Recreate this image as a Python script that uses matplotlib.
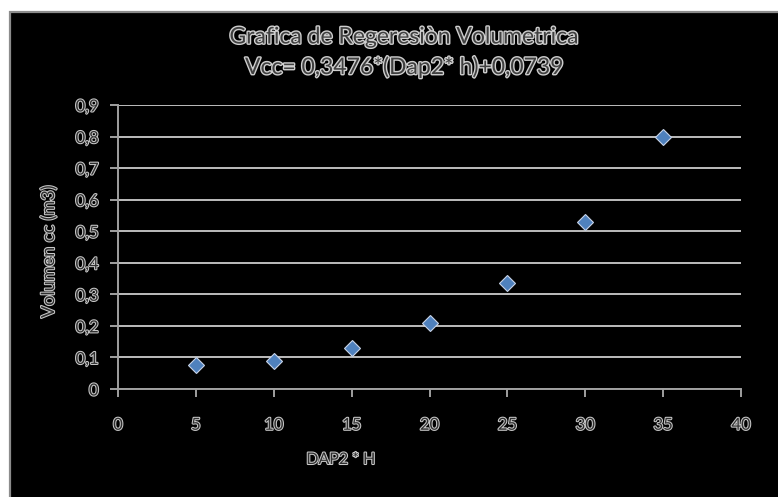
import matplotlib
matplotlib.use("Agg")
import matplotlib.pyplot as plt
import matplotlib.patheffects as pe
from matplotlib.patches import Rectangle

# Regression data: DAP^2 * H vs. volume
dap2_h = [5, 10, 15, 20, 25, 30, 35]
volumen = [0.075, 0.09, 0.13, 0.21, 0.335, 0.53, 0.80]

x_ticks = [0, 5, 10, 15, 20, 25, 30, 35, 40]
y_ticks = [0, 0.1, 0.2, 0.3, 0.4, 0.5, 0.6, 0.7, 0.8, 0.9]
y_labels = ["0", "0,1", "0,2", "0,3", "0,4", "0,5", "0,6", "0,7", "0,8", "0,9"]

title_1 = "Grafica de Regeresiòn Volumetrica"
title_2 = "Vcc= 0,3476*(Dap2* h)+0,0739"
x_title = "DAP2 * H"
y_title = "Volumen cc (m3)"

plt.rcParams["font.family"] = ["Lato", "DejaVu Sans"]

W, H = 778, 497
fig = plt.figure(figsize=(W / 100, H / 100), dpi=100, facecolor="white")

# black chart area with a grey frame, drawn behind everything else
frame = Rectangle((9.5 / W, -0.01), 1.02, 1 - 11.5 / H + 0.01,
                  transform=fig.transFigure, facecolor="black",
                  edgecolor="#8c8c8c", linewidth=1.6, zorder=-10)
fig.patches.append(frame)

outline = [pe.Stroke(linewidth=2.0, foreground="#cfcfcf"), pe.Normal()]
outline_small = [pe.Stroke(linewidth=1.5, foreground="#c8c8c8"), pe.Normal()]

ax = fig.add_axes([118 / W, 1 - 389 / H, (741 - 118) / W, (389 - 105) / H])
ax.set_zorder(1)
ax.set_facecolor("black")
ax.set_xlim(0, 40)
ax.set_ylim(0, 0.9)
ax.set_xticks(x_ticks)
ax.set_yticks(y_ticks)
ax.set_yticklabels(y_labels)
ax.grid(axis="y", color="#bdbdbd", linewidth=1.4)
ax.set_axisbelow(True)
for side in ("top", "right"):
    ax.spines[side].set_visible(False)
for side in ("left", "bottom"):
    ax.spines[side].set_color("#a0a0a0")
    ax.spines[side].set_linewidth(1.4)
ax.tick_params(axis="both", colors="#a0a0a0", length=6, width=1.4,
               labelcolor="#303030", labelsize=12)
ax.tick_params(axis="x", pad=14)
ax.tick_params(axis="y", pad=8)
for lbl in ax.get_xticklabels() + ax.get_yticklabels():
    lbl.set_path_effects(outline_small)

ax.plot(dap2_h, volumen, linestyle="none", marker="D", markersize=8,
        markerfacecolor="#4f81bd", markeredgecolor="#c8d4e8",
        markeredgewidth=0.8, zorder=3, clip_on=False)

fig.text(404 / W, 1 - 37 / H, title_1, ha="center", va="center",
         fontsize=16.5, color="#404040", path_effects=outline)
fig.text(404 / W, 1 - 67 / H, title_2, ha="center", va="center",
         fontsize=16.5, color="#404040", path_effects=outline)
fig.text(341 / W, 1 - 460 / H, x_title, ha="center", va="center",
         fontsize=11.5, color="#303030", path_effects=outline_small)
fig.text(49 / W, 1 - 252 / H, y_title, ha="center", va="center",
         rotation=90, fontsize=13, color="#303030", path_effects=outline_small)

fig.savefig("out.png", dpi=100, facecolor="white")
